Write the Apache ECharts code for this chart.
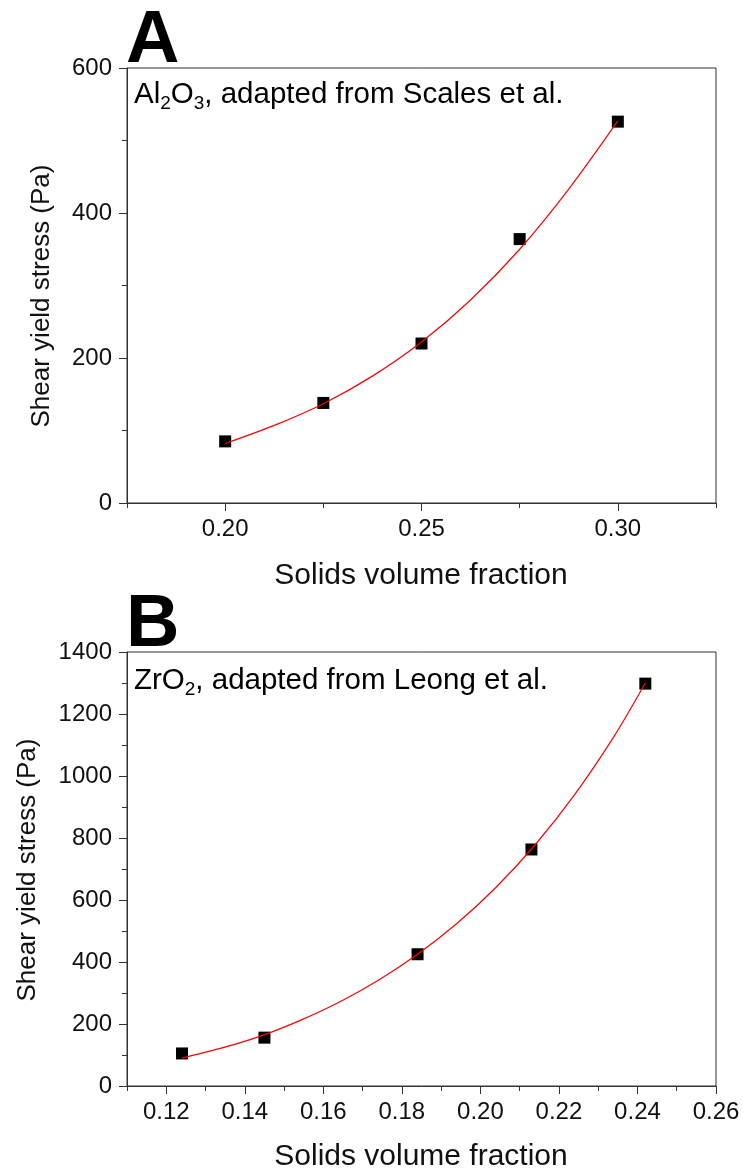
<!DOCTYPE html>
<html>
<head>
<meta charset="utf-8">
<script src="https://cdn.jsdelivr.net/npm/echarts@6/dist/echarts.min.js"></script>
<style>html,body{margin:0;padding:0;background:#fff;}#c{width:743px;height:1171px;}</style>
</head>
<body>
<div id="c"></div>
<script>
// Panel A (Al2O3, Scales et al.)
const aPointsX = [0.200, 0.225, 0.250, 0.275, 0.300];
const aPointsY = [85, 138, 220, 364, 526];
const aFitX = [0.200, 0.2125, 0.225, 0.2375, 0.250, 0.2625, 0.275, 0.2875, 0.300];
const aFitY = [82, 107, 137, 175, 222, 280, 350, 433, 527];
const aXMajor = [0.20, 0.25, 0.30];
const aXMinor = [0.175, 0.225, 0.275, 0.325];
// Panel B (ZrO2, Leong et al.)
const bPointsX = [0.124, 0.145, 0.184, 0.213, 0.242];
const bPointsY = [105, 156, 425, 763, 1298];
const bFitX = [0.124, 0.134, 0.144, 0.154, 0.164, 0.174, 0.184, 0.194, 0.204, 0.214, 0.224, 0.234, 0.242];
const bFitY = [90, 122, 161, 211, 270, 341, 425, 524, 641, 779, 940, 1127, 1300];
const bXMajor = [0.12, 0.14, 0.16, 0.18, 0.20, 0.22, 0.24, 0.26];
const bXMinor = [0.11, 0.13, 0.15, 0.17, 0.19, 0.21, 0.23, 0.25];

const FONT = '"Liberation Sans", Arial, sans-serif';
const AX = '#333';
const TXT = '#111';
const zip = (xs, ys) => xs.map((x, i) => [x, ys[i]]);

function xMain(grid, min, max, major) {
  return {
    type: 'value', gridIndex: grid, min: min, max: max, position: 'bottom',
    axisLine: {show: true, lineStyle: {color: AX, width: 1}},
    axisTick: {show: true, customValues: major, length: 8, lineStyle: {color: AX}},
    axisLabel: {show: true, customValues: major, margin: 14, fontFamily: FONT, fontSize: 24, color: TXT,
      formatter: v => v.toFixed(2)},
    splitLine: {show: false}
  };
}
function xMinor(grid, min, max, minor) {
  return {
    type: 'value', gridIndex: grid, min: min, max: max, position: 'bottom',
    axisLine: {show: false},
    axisTick: {show: true, customValues: minor, length: 5, lineStyle: {color: AX}},
    axisLabel: {show: false},
    splitLine: {show: false}
  };
}
function yAxis(grid, max, interval) {
  return {
    type: 'value', gridIndex: grid, min: 0, max: max, interval: interval,
    axisLine: {show: true, lineStyle: {color: AX, width: 1}},
    axisTick: {show: true, length: 8, lineStyle: {color: AX}},
    minorTick: {show: true, splitNumber: 2, length: 5, lineStyle: {color: AX}},
    axisLabel: {margin: 15, fontFamily: FONT, fontSize: 24, color: TXT, formatter: v => String(v)},
    splitLine: {show: false}
  };
}

const chart = echarts.init(document.getElementById('c'), null, {renderer: 'canvas'});
const rich = {
  n: {fontFamily: FONT, fontSize: 29.5, color: TXT, lineHeight: 36, verticalAlign: 'middle'},
  s: {fontFamily: FONT, fontSize: 19, color: TXT, lineHeight: 36, verticalAlign: 'bottom'}
};
const lineCommon = {type: 'line', smooth: 0.3, showSymbol: false,
  lineStyle: {color: '#ff0000', width: 1.2}, z: 2};
const scatterCommon = {type: 'scatter', symbol: 'rect', symbolSize: 12,
  itemStyle: {color: '#000', opacity: 1}, z: 1};
chart.setOption({
  animation: false,
  backgroundColor: '#fff',
  grid: [
    {left: 127, top: 68, width: 589, height: 435, show: true, borderColor: AX, borderWidth: 1, backgroundColor: 'transparent'},
    {left: 127, top: 652, width: 589, height: 434, show: true, borderColor: AX, borderWidth: 1, backgroundColor: 'transparent'}
  ],
  xAxis: [
    xMain(0, 0.175, 0.325, aXMajor), xMinor(0, 0.175, 0.325, aXMinor),
    xMain(1, 0.11, 0.26, bXMajor), xMinor(1, 0.11, 0.26, bXMinor)
  ],
  yAxis: [yAxis(0, 600, 200), yAxis(1, 1400, 200)],
  series: [
    Object.assign({}, lineCommon, {xAxisIndex: 0, yAxisIndex: 0, data: zip(aFitX, aFitY)}),
    Object.assign({}, scatterCommon, {xAxisIndex: 0, yAxisIndex: 0, data: zip(aPointsX, aPointsY)}),
    Object.assign({}, lineCommon, {xAxisIndex: 2, yAxisIndex: 1, data: zip(bFitX, bFitY)}),
    Object.assign({}, scatterCommon, {xAxisIndex: 2, yAxisIndex: 1, data: zip(bPointsX, bPointsY)})
  ],
  graphic: [
    {type: 'text', left: 126, top: 5, style: {text: 'A', fontFamily: FONT, fontWeight: 'bold', fontSize: 74, fill: '#000'}},
    {type: 'text', left: 126, top: 589, style: {text: 'B', fontFamily: FONT, fontWeight: 'bold', fontSize: 74, fill: '#000'}},
    {type: 'text', left: 134, top: 80, style: {text: '{n|Al}{s|2}{n|O}{s|3}{n|, adapted from Scales et al.}', rich: rich}},
    {type: 'text', left: 134, top: 666, style: {text: '{n|ZrO}{s|2}{n|, adapted from Leong et al.}', rich: rich}},
    {type: 'text', x: 42, y: 296, rotation: Math.PI / 2, style: {text: 'Shear yield stress (Pa)', fontFamily: FONT, fontSize: 26, fill: TXT, align: 'center', verticalAlign: 'middle'}},
    {type: 'text', x: 28, y: 870, rotation: Math.PI / 2, style: {text: 'Shear yield stress (Pa)', fontFamily: FONT, fontSize: 26, fill: TXT, align: 'center', verticalAlign: 'middle'}},
    {type: 'text', x: 421, y: 576, style: {text: 'Solids volume fraction', fontFamily: FONT, fontSize: 30, fill: TXT, align: 'center', verticalAlign: 'middle'}},
    {type: 'text', x: 421, y: 1157, style: {text: 'Solids volume fraction', fontFamily: FONT, fontSize: 30, fill: TXT, align: 'center', verticalAlign: 'middle'}}
  ]
});
</script>
</body>
</html>
